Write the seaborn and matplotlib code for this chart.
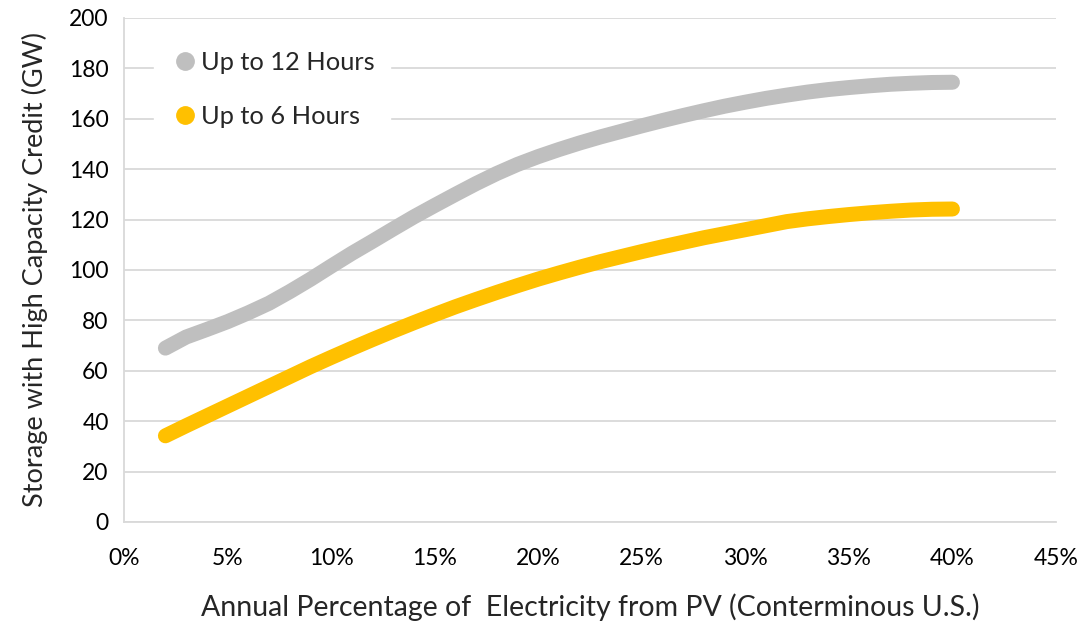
import matplotlib
matplotlib.use("Agg")
import matplotlib.pyplot as plt
from matplotlib.lines import Line2D
from matplotlib.ticker import FuncFormatter, MultipleLocator
import seaborn as sns
import pandas as pd

# ---- data ----
pv_pct = [2, 3, 4, 5, 6, 7, 8, 9, 10, 11, 12, 13, 14, 15, 16, 17, 18, 19, 20, 21,
          22, 23, 24, 25, 26, 27, 28, 29, 30, 31, 32, 33, 34, 35, 36, 37, 38, 39, 40]
up_to_12h = [69.0, 73.4, 76.4, 79.5, 83.0, 86.8, 91.4, 96.3, 101.5, 106.6, 111.4, 116.3, 121.1,
             125.6, 130.0, 134.3, 138.3, 141.9, 145.0, 147.8, 150.4, 152.8, 155.0, 157.2,
             159.3, 161.3, 163.2, 165.0, 166.6, 168.1, 169.4, 170.6, 171.6, 172.4, 173.1,
             173.7, 174.1, 174.4, 174.5]
up_to_6h = [34.2, 38.2, 42.1, 46.0, 49.9, 53.8, 57.7, 61.6, 65.3, 68.9, 72.4, 75.8, 79.1,
            82.3, 85.4, 88.3, 91.1, 93.8, 96.4, 98.8, 101.1, 103.3, 105.3, 107.3, 109.2,
            111.0, 112.8, 114.4, 116.0, 117.6, 119.2, 120.3, 121.2, 122.0, 122.7, 123.3,
            123.8, 124.1, 124.2]
series_names = ["Up to 12 Hours", "Up to 6 Hours"]
series_colors = ["#BFBFBF", "#FFC000"]
x_label = "Annual Percentage of  Electricity from PV (Conterminous U.S.)"
y_label = "Storage with High Capacity Credit (GW)"

df = pd.concat([
    pd.DataFrame({"pct": pv_pct, "gw": up_to_12h, "series": series_names[0]}),
    pd.DataFrame({"pct": pv_pct, "gw": up_to_6h, "series": series_names[1]}),
])

sns.set_theme(style="white")
plt.rcParams["font.family"] = ["Lato", "DejaVu Sans"]

fig = plt.figure(figsize=(10.86, 6.21), dpi=100)
ax = fig.add_axes([124 / 1086, 1 - 522 / 621, (1056 - 124) / 1086, (522 - 18) / 621])

sns.lineplot(data=df, x="pct", y="gw", hue="series", hue_order=series_names,
             palette=dict(zip(series_names, series_colors)), linewidth=10.8,
             legend=False, ax=ax, sort=False)
for ln in ax.get_lines():
    ln.set_solid_capstyle("round")
    ln.set_solid_joinstyle("round")

ax.set_xlim(0, 45)
ax.set_ylim(0, 200)
ax.xaxis.set_major_locator(MultipleLocator(5))
ax.yaxis.set_major_locator(MultipleLocator(20))
ax.xaxis.set_major_formatter(FuncFormatter(lambda v, p: f"{int(round(v))}%"))

ax.grid(axis="y", color="#D9D9D9", linewidth=1.3)
ax.grid(axis="x", visible=False)
ax.set_axisbelow(True)
for s in ["top", "right"]:
    ax.spines[s].set_visible(False)
for s in ["left", "bottom"]:
    ax.spines[s].set_color("#D9D9D9")
    ax.spines[s].set_linewidth(1.3)

ax.tick_params(axis="both", length=0, labelsize=16.5, colors="black")
ax.tick_params(axis="x", pad=19)
ax.tick_params(axis="y", pad=11)

ax.set_xlabel(x_label, fontsize=20.5, labelpad=17)
ax.set_ylabel(y_label, fontsize=19.5, labelpad=15)

handles = [Line2D([], [], linestyle="none", marker="o", markersize=12.5,
                  markerfacecolor=c, markeredgecolor=c) for c in series_colors]
leg = ax.legend(handles, series_names, loc="upper left", bbox_to_anchor=(0.019, 0.99),
                frameon=True, fontsize=18.3, handletextpad=0.05, labelspacing=1.22,
                borderpad=0.6, handlelength=1.2)
leg.get_frame().set_facecolor("white")
leg.get_frame().set_edgecolor("white")
leg.get_frame().set_alpha(1)

fig.savefig("out.png", dpi=100)
